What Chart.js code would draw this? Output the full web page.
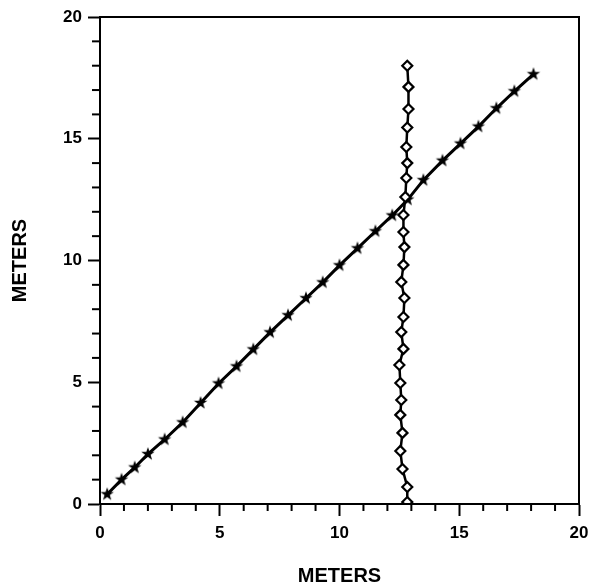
<!DOCTYPE html>
<html>
<head>
<meta charset="utf-8">
<script src="https://cdn.jsdelivr.net/npm/chart.js@4/dist/chart.umd.min.js"></script>
<style>
  html, body { margin: 0; padding: 0; background: #fff; }
  #wrap { width: 589px; height: 586px; }
</style>
</head>
<body>
<div id="wrap"><canvas id="chart" width="589" height="586"></canvas></div>
<script>
// straight line of star markers
const starX = [0.3, 0.9, 1.45, 2.0, 2.7, 3.45, 4.2, 4.95, 5.7, 6.4, 7.1, 7.85, 8.6,
  9.3, 10.0, 10.75, 11.5, 12.2, 12.85, 13.5, 14.3, 15.05, 15.8, 16.55, 17.3, 18.1];
const starY = [0.4, 1.0, 1.5, 2.05, 2.65, 3.35, 4.15, 4.95, 5.65, 6.35, 7.05, 7.75, 8.45,
  9.1, 9.8, 10.5, 11.2, 11.85, 12.5, 13.3, 14.1, 14.8, 15.5, 16.25, 16.95, 17.65];

// vertical column of diamonds (top to bottom)
const diamondX = [12.83, 12.88, 12.88, 12.83, 12.79, 12.83, 12.79, 12.75, 12.67, 12.67,
  12.71, 12.67, 12.58, 12.71, 12.67, 12.58, 12.67, 12.5, 12.54, 12.58, 12.54, 12.63,
  12.54, 12.63, 12.83, 12.83];
const diamondY = [18.0, 17.13, 16.22, 15.46, 14.66, 14.0, 13.39, 12.61, 11.87, 11.17,
  10.55, 9.82, 9.12, 8.46, 7.68, 7.06, 6.37, 5.71, 4.97, 4.27, 3.66, 2.92, 2.18,
  1.44, 0.7, 0.08];

const axisMin = 0;
const axisMax = 20;
const majorStep = 5;
const axisTitle = 'METERS';

const toPoints = (xs, ys) => xs.map((x, i) => ({ x: x, y: ys[i] }));

// small five point star used as marker
const starImg = document.createElement('canvas');
starImg.width = 16;
starImg.height = 16;
(() => {
    const c = starImg.getContext('2d');
    c.beginPath();
    for (let i = 0; i < 10; i++) {
        const r = i % 2 === 0 ? 7 : 2.8;
        const a = -Math.PI / 2 + i * Math.PI / 5;
        const px = 8 + r * Math.cos(a);
        const py = 8 + r * Math.sin(a);
        if (i === 0) c.moveTo(px, py); else c.lineTo(px, py);
    }
    c.closePath();
    c.fillStyle = '#000';
    c.fill();
})();

// frame around plot + short minor ticks
const framePlugin = {
    id: 'frame',
    afterDraw: (chart) => {
        const ctx = chart.ctx;
        const a = chart.chartArea;
        ctx.save();
        ctx.strokeStyle = '#000';
        ctx.lineWidth = 2;
        ctx.strokeRect(a.left, a.top, a.right - a.left, a.bottom - a.top);
        const xs = chart.scales.x;
        const ys = chart.scales.y;
        for (let v = axisMin; v <= axisMax; v++) {
            if (v % majorStep === 0) continue;
            const px = xs.getPixelForValue(v);
            ctx.beginPath();
            ctx.moveTo(px, a.bottom);
            ctx.lineTo(px, a.bottom + 7);
            ctx.stroke();
            const py = ys.getPixelForValue(v);
            ctx.beginPath();
            ctx.moveTo(a.left, py);
            ctx.lineTo(a.left - 8, py);
            ctx.stroke();
        }
        ctx.restore();
    }
};

const tickFont = { family: '"Liberation Sans", Arial, sans-serif', size: 17, weight: 'bold' };
const titleFont = { family: '"Liberation Sans", Arial, sans-serif', size: 20, weight: 'bold', lineHeight: 1 };

const axisOptions = (isX) => ({
    type: 'linear',
    min: axisMin,
    max: axisMax,
    afterFit: (scale) => {
        if (isX) {
            scale.height = 82;
            scale.paddingLeft = 0;
            scale.paddingRight = 0;
        } else {
            scale.width = 100;
            scale.paddingTop = 0;
            scale.paddingBottom = 0;
        }
    },
    border: { display: true, color: '#000', width: 2 },
    grid: {
        drawOnChartArea: false,
        drawTicks: true,
        tickLength: 12,
        tickWidth: 2,
        tickColor: (ctx) => (ctx.tick && ctx.tick.value % majorStep === 0 ? '#000' : 'rgba(0,0,0,0)')
    },
    ticks: {
        stepSize: 1,
        autoSkip: false,
        maxRotation: 0,
        color: '#000',
        font: tickFont,
        padding: isX ? 7 : 6,
        callback: (v) => (v % majorStep === 0 ? String(v) : '')
    },
    title: {
        display: true,
        text: axisTitle,
        color: '#000',
        font: titleFont,
        padding: { top: isX ? 1 : 10, bottom: 0 }
    }
});

new Chart(document.getElementById('chart').getContext('2d'), {
    type: 'scatter',
    data: {
        datasets: [
            {
                label: 'diamonds',
                data: toPoints(diamondX, diamondY),
                showLine: true,
                borderColor: '#000',
                borderWidth: 2.5,
                pointStyle: 'rectRot',
                pointRadius: 5,
                pointBorderWidth: 2.2,
                pointBackgroundColor: '#fff',
                pointBorderColor: '#000'
            },
            {
                label: 'stars',
                data: toPoints(starX, starY),
                showLine: true,
                borderColor: '#000',
                borderWidth: 3,
                pointStyle: starImg,
                pointRadius: 7
            }
        ]
    },
    options: {
        responsive: false,
        devicePixelRatio: 1,
        animation: false,
        layout: { padding: { left: 0, right: 9, top: 17, bottom: 0 } },
        plugins: {
            legend: { display: false },
            tooltip: { enabled: false }
        },
        scales: {
            x: axisOptions(true),
            y: axisOptions(false)
        }
    },
    plugins: [framePlugin]
});
</script>
</body>
</html>
